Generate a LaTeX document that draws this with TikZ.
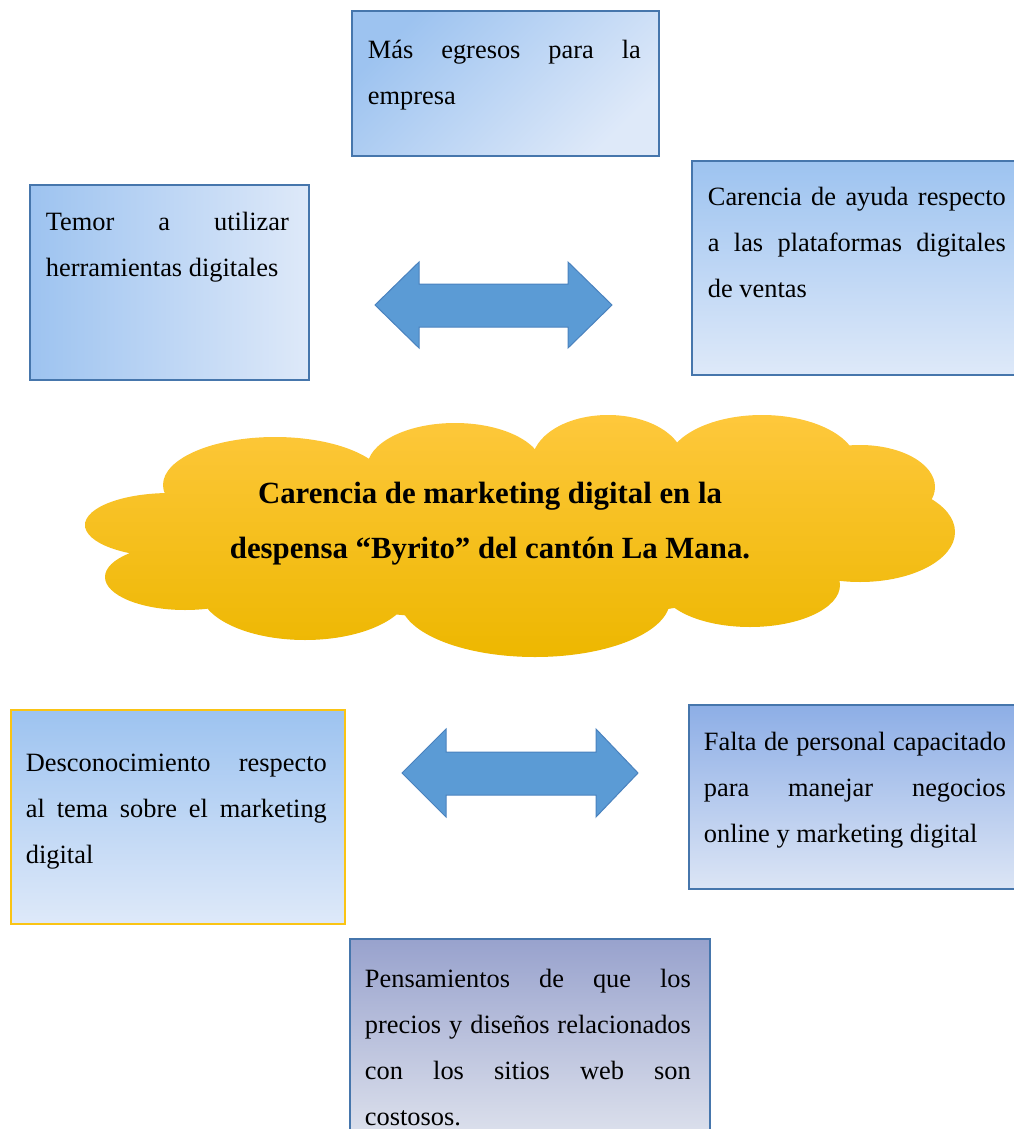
\documentclass[tikz,border=0pt]{standalone}
\usepackage{fontspec}
\setmainfont{Liberation Serif}
\definecolor{bluetop}{RGB}{157,195,240}
\definecolor{bluelight}{RGB}{222,233,249}
\definecolor{bordblue}{RGB}{70,118,172}
\definecolor{goldline}{RGB}{250,196,20}
\definecolor{bluetopb}{RGB}{141,174,230}
\definecolor{bluelightb}{RGB}{220,229,245}
\definecolor{purtop}{RGB}{152,162,205}
\definecolor{purlight}{RGB}{222,226,237}
\definecolor{arrowfill}{RGB}{91,155,213}
\definecolor{arrowline}{RGB}{74,130,190}
\definecolor{cloudtop}{RGB}{254,200,60}
\definecolor{cloudbot}{RGB}{237,183,0}
\tikzset{
  boxbase/.style={draw=bordblue, line width=0.9pt, inner sep=0pt, anchor=north west,
    font=\fontsize{13.2}{23}\selectfont},
  blockarrow/.style={fill=arrowfill, draw=arrowline, line width=0.5pt},
  cloudtext/.style={font=\bfseries\fontsize{15.4}{27.5}\selectfont, align=center, inner sep=0pt}
}
\begin{document}
\begin{tikzpicture}[x=0.5pt,y=-0.5pt]
\useasboundingbox (0,0) rectangle (1013,1129);

% cloud
\shade[top color=cloudtop, bottom color=cloudbot]
  (170,525) ellipse [x radius=42.5pt, y radius=16pt]
  (275,485) ellipse [x radius=56pt, y radius=24pt]
  (455,468) ellipse [x radius=44pt, y radius=22.5pt]
  (608,462) ellipse [x radius=38pt, y radius=23.5pt]
  (762,465) ellipse [x radius=47.5pt, y radius=25pt]
  (860,487) ellipse [x radius=37.5pt, y radius=21pt]
  (860,532) ellipse [x radius=47.5pt, y radius=25pt]
  (750,585) ellipse [x radius=45pt, y radius=21pt]
  (535,600) ellipse [x radius=67.5pt, y radius=28.5pt]
  (305,590) ellipse [x radius=52.5pt, y radius=25pt]
  (185,577) ellipse [x radius=40pt, y radius=16.5pt]
  (510,535) ellipse [x radius=160pt, y radius=42.5pt];
\node[cloudtext] (problem) at (490,524)
  {Carencia de marketing digital en la\\despensa “Byrito” del cantón La Mana.};

% boxes
\node[boxbase, shade, top color=bluetop, bottom color=bluelight, shading angle=45] (mas) at (351,10)
  {\parbox[t][72.5pt][t]{153.5pt}{\rule{0pt}{24pt}\hspace*{8pt}\makebox[136.5pt][s]{Más egresos para la}\par
   \hspace*{8pt}empresa}};

\node[boxbase, shade, left color=bluetop, right color=bluelight] (temor) at (29,184)
  {\parbox[t][97.5pt][t]{139.5pt}{\rule{0pt}{23pt}\hspace*{8pt}\makebox[121.5pt][s]{Temor a utilizar}\par
   \hspace*{8pt}herramientas digitales}};

\node[boxbase, shade, top color=bluetop, bottom color=bluelight] (ayuda) at (691,160)
  {\parbox[t][107pt][t]{164.5pt}{\rule{0pt}{22.5pt}\hspace*{8pt}\makebox[149pt][s]{Carencia de ayuda respecto}\par
   \hspace*{8pt}\makebox[149pt][s]{a las plataformas digitales}\par
   \hspace*{8pt}de ventas}};

\node[boxbase, draw=goldline, shade, top color=bluetop, bottom color=bluelight] (descon) at (10,709)
  {\parbox[t][107pt][t]{167pt}{\rule{0pt}{31pt}\hspace*{7.5pt}\makebox[150.5pt][s]{Desconocimiento respecto}\par
   \hspace*{7.5pt}\makebox[150.5pt][s]{al tema sobre el marketing}\par
   \hspace*{7.5pt}digital}};

\node[boxbase, shade, top color=bluetopb, bottom color=bluelightb] (falta) at (688,704)
  {\parbox[t][92pt][t]{166pt}{\rule{0pt}{23pt}\hspace*{7.5pt}\makebox[151pt][s]{Falta de personal capacitado}\par
   \hspace*{7.5pt}\makebox[151pt][s]{para manejar negocios}\par
   \hspace*{7.5pt}online y marketing digital}};

\node[boxbase, shade, top color=purtop, bottom color=purlight] (precios) at (349,938)
  {\parbox[t][101pt][t]{180pt}{\rule{0pt}{24.5pt}\hspace*{7.5pt}\makebox[163pt][s]{Pensamientos de que los}\par
   \hspace*{7.5pt}\makebox[163pt][s]{precios y diseños relacionados}\par
   \hspace*{7.5pt}\makebox[163pt][s]{con los sitios web son}\par
   \hspace*{7.5pt}costosos.}};

% block arrows
\draw[blockarrow] (375,305) -- (419,262) -- (419,284) -- (568,284) -- (568,262) -- (612,305)
  -- (568,348) -- (568,327) -- (419,327) -- (419,348) -- cycle;
\draw[blockarrow] (402,773) -- (446,729) -- (446,752) -- (596,752) -- (596,729) -- (638,773)
  -- (596,817) -- (596,795) -- (446,795) -- (446,817) -- cycle;
\end{tikzpicture}
\end{document}
